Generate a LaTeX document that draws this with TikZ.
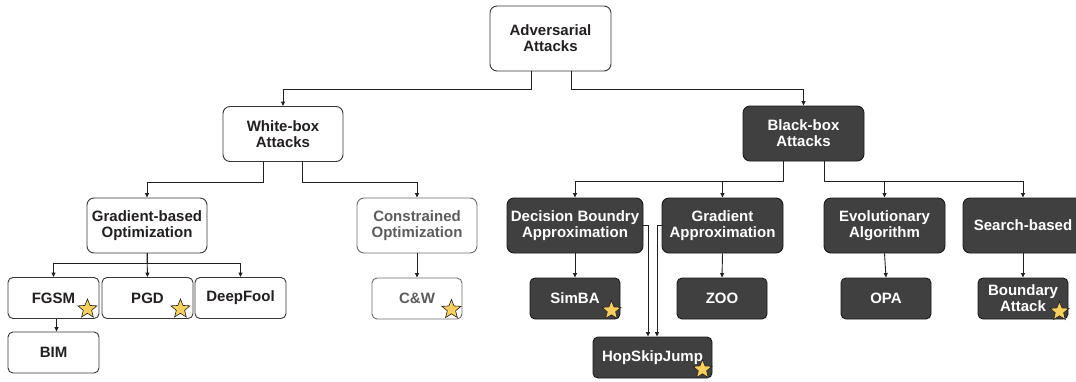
\documentclass[tikz,border=0pt]{standalone}
\usepackage{fontspec}
\setmainfont{Liberation Sans}
\usetikzlibrary{arrows.meta,shapes.geometric,calc}
\definecolor{darkfill}{HTML}{404040}
\definecolor{linecol}{HTML}{231F20}
\definecolor{starcol}{HTML}{F9CF5B}
\definecolor{graytxt}{HTML}{5C5C5C}
\tikzset{
  base/.style={rectangle, rounded corners=7pt, line width=0.9pt, align=center,
    font=\fontsize{15}{16}\selectfont\bfseries, inner sep=0pt},
  wbox/.style={base, draw=linecol!90, fill=white, text=linecol},
  gbox/.style={base, draw=gray!85!black, fill=white, text=graytxt},
  dbox/.style={base, draw=black!90, fill=darkfill, text=white},
  big/.style={minimum width=#1pt, minimum height=55pt},
  small/.style={minimum width=#1pt, minimum height=41pt, rounded corners=5pt},
  arr/.style={draw=linecol, line width=0.9pt, -{Triangle[length=4.5pt,width=4pt]}},
  plain/.style={draw=linecol, line width=0.9pt},
  starmark/.style={star, star points=5, star point ratio=2.3, draw=linecol, line width=0.6pt,
    fill=starcol, inner sep=0pt, minimum size=20pt}
}
\begin{document}
\begin{tikzpicture}[x=1pt,y=-1pt]
\clip (0,0) rectangle (1076,381);
\fill[white] (0,0) rectangle (1076,381);
% level 0
\node[wbox, minimum width=121pt, minimum height=65pt] (adv) at (550.5,38.5) {Adversarial\\Attacks};
% level 1
\node[wbox, big=120] (white) at (283,134) {White-box\\Attacks};
\node[dbox, big=121] (black) at (803.5,133.5) {Black-box\\Attacks};
% level 2
\node[wbox, big=120] (grad) at (147,225.5) {Gradient-based\\Optimization};
\node[gbox, big=120] (constr) at (417,225.5) {Constrained\\Optimization};
\node[dbox, big=136] (dba) at (575,225.5) {Decision Boundry\\Approximation};
\node[dbox, big=121] (gapp) at (722.5,225.5) {Gradient\\Approximation};
\node[dbox, big=121] (evo) at (884.5,225.5) {Evolutionary\\Algorithm};
\node[dbox, big=120] (search) at (1023,225.5) {Search-based};
% level 3
\node[wbox, small=91] (fgsm) at (53.5,298) {FGSM};
\node[wbox, small=91] (pgd) at (147.5,298) {PGD};
\node[wbox, small=91] (deepfool) at (240.5,298) {DeepFool};
\node[wbox, small=91] (bim) at (53.5,352.5) {BIM};
\node[gbox, small=90] (cw) at (417,298.5) {C\&W};
\node[dbox, small=90] (simba) at (575,298.5) {SimBA};
\node[dbox, small=90] (zoo) at (722,298.5) {ZOO};
\node[dbox, small=90] (opa) at (886,298.5) {OPA};
\node[dbox, small=90] (boundary) at (1023,298.5) {Boundary\\Attack};
\node[dbox, small=119] (hsj) at (652.5,357.5) {HopSkipJump};
% stars
\node[starmark] (s1) at ([shift={(-12pt,10pt)}]fgsm.south east) {};
\node[starmark] (s2) at ([shift={(-13pt,10pt)}]pgd.south east) {};
\node[starmark] (s3) at ([shift={(-11pt,10pt)}]cw.south east) {};
\node[starmark] (s4) at ([shift={(-9pt,9pt)}]simba.south east) {};
\node[starmark] (s5) at ([shift={(-10pt,9pt)}]hsj.south east) {};
\node[starmark] (s6) at ([shift={(-9pt,8pt)}]boundary.south east) {};
% connectors
\draw[arr] ([xshift=-19.5pt]adv.south) -- ++(0,18) -| (white.north);
\draw[arr] ([xshift=20.5pt]adv.south) -- ++(0,18) -| (black.north);
\draw[arr] ([xshift=-20pt]white.south) -- ++(0,20) -| (grad.north);
\draw[arr] ([xshift=19pt]white.south) -- ++(0,20) -| (constr.north);
\draw[arr] ([xshift=-20.5pt]black.south) -- ++(0,20) -| (dba.north);
\draw[arr] ([xshift=-20.5pt]black.south) -- ++(0,20) -| (gapp.north);
\draw[arr] ([xshift=20.5pt]black.south) -- ++(0,20) -| (evo.north);
\draw[arr] ([xshift=20.5pt]black.south) -- ++(0,20) -| (search.north);
\draw[arr] (grad.south) -- ++(0,10) -| (fgsm.north);
\draw[arr] (grad.south) -- (pgd.north);
\draw[arr] (grad.south) -- ++(0,10) -| (deepfool.north);
\draw[arr] ([xshift=3pt]fgsm.south) -- ([xshift=3pt]bim.north);
\draw[arr] (constr.south) -- (cw.north);
\draw[arr] (dba.south) -- (simba.north);
\draw[arr] (gapp.south) -- (zoo.north);
\draw[arr] (evo.south) -- (opa.north);
\draw[arr] (search.south) -- (boundary.north);
\draw[arr] (dba.east) -| ([xshift=-4.5pt]hsj.north);
\draw[arr] (gapp.west) -| ([xshift=4.5pt]hsj.north);
\end{tikzpicture}
\end{document}
